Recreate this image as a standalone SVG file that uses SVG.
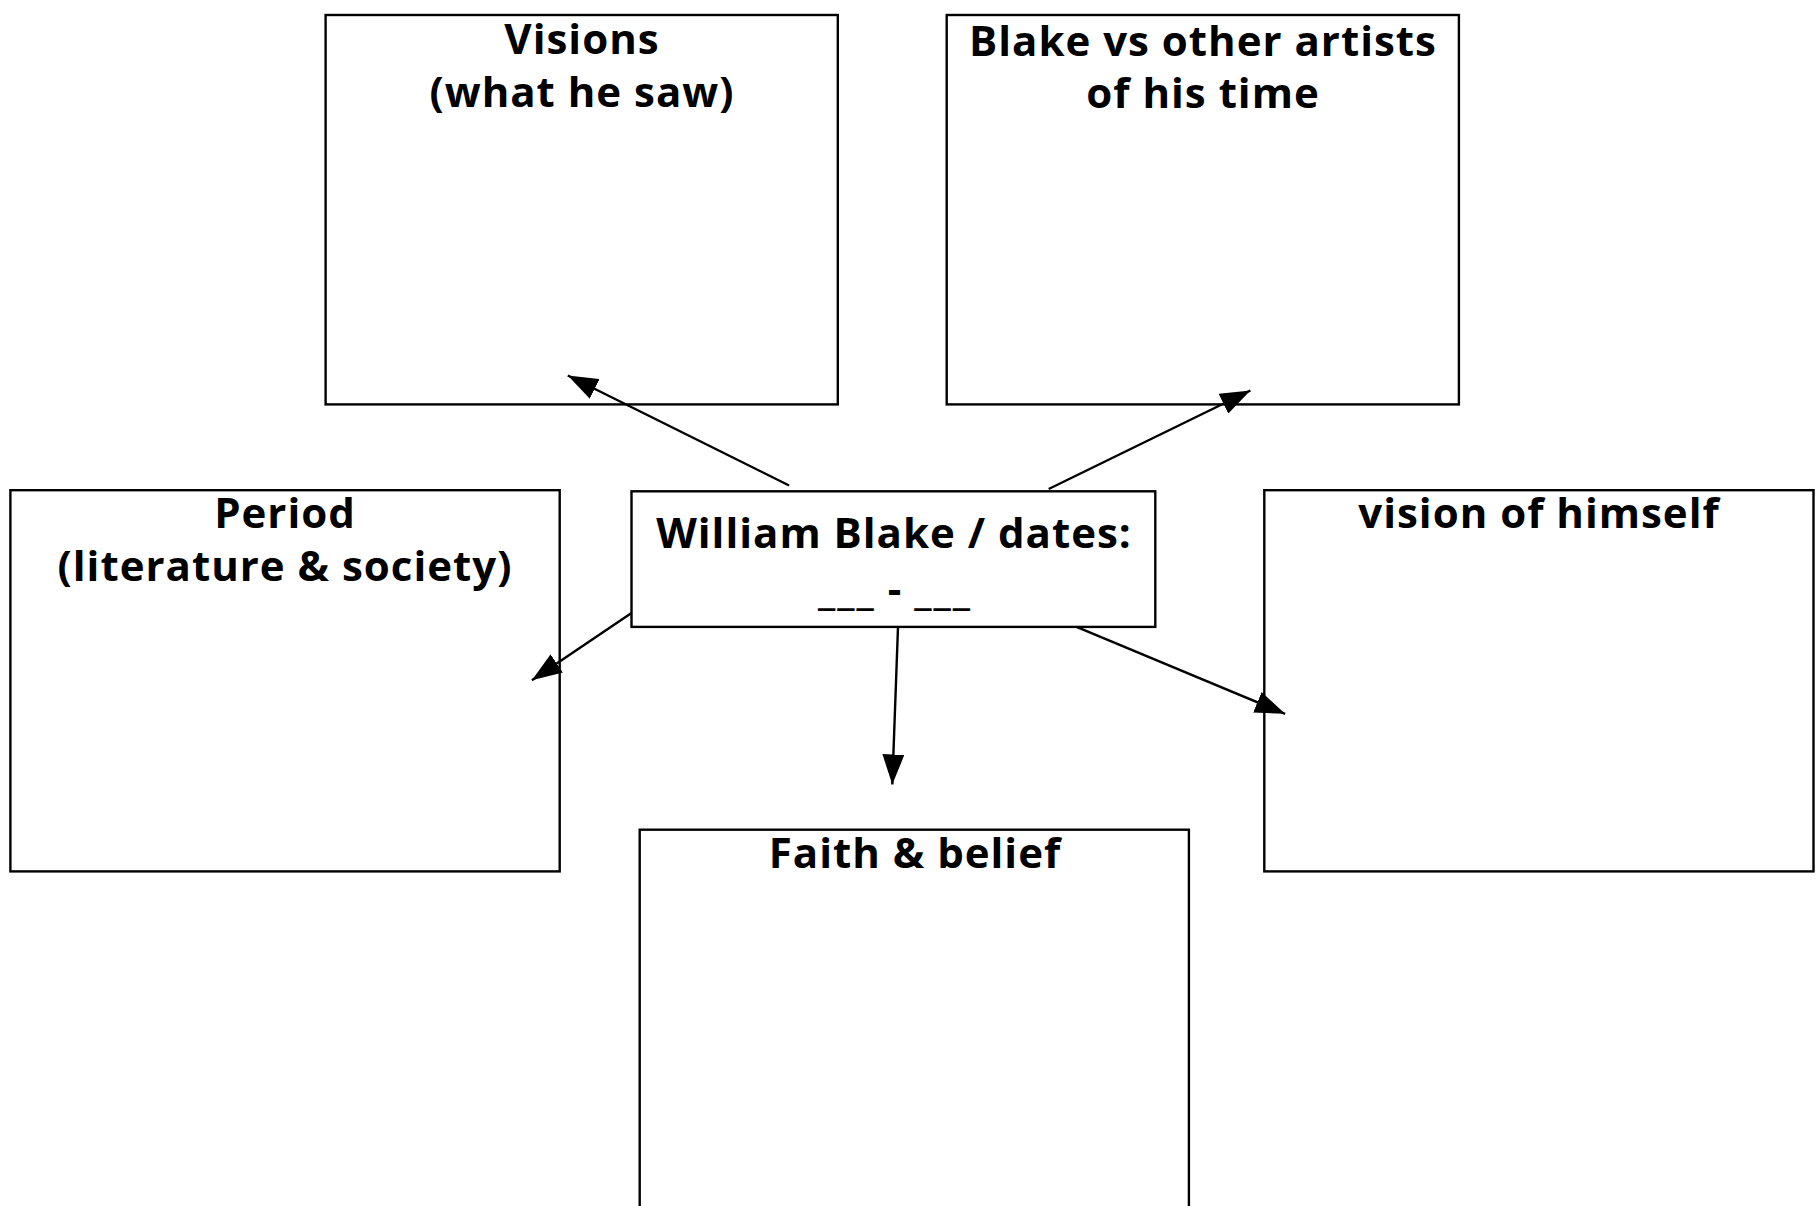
<svg xmlns="http://www.w3.org/2000/svg" width="1817" height="1206" viewBox="0 0 1817 1206">
<style>
.box{fill:#fff;stroke:#000;stroke-width:2.4}
.t{font-family:"Open Sans","Noto Sans","DejaVu Sans",sans-serif;font-weight:bold;font-size:42px;letter-spacing:1px;fill:#000;text-anchor:middle}
.u{letter-spacing:2px}
.c{stroke:#000;stroke-width:2.4;fill:none;marker-end:url(#ah)}
</style>
<defs>
<marker id="ah" viewBox="0 0 30 22" refX="30" refY="11" markerWidth="30" markerHeight="22" markerUnits="userSpaceOnUse" orient="auto">
<path d="M0,0 L30,11 L0,22 Z" fill="#000"/>
</marker>
</defs>
<rect width="1817" height="1206" fill="#fff"/>
<g id="visions">
<rect class="box" x="325.6" y="15" width="512.2" height="389.4"/>
<text class="t" x="582" y="54">Visions</text>
<text class="t" x="582" y="107">(what he saw)</text>
</g>
<g id="blake-vs">
<rect class="box" x="946.7" y="15" width="512.2" height="389.4"/>
<text class="t" x="1203" y="56">Blake vs other artists</text>
<text class="t" x="1203" y="108">of his time</text>
</g>
<g id="period">
<rect class="box" x="10.4" y="490.2" width="549.3" height="381.2"/>
<text class="t" x="285" y="528">Period</text>
<text class="t" x="285" y="581">(literature &amp; society)</text>
</g>
<g id="center">
<rect class="box" x="631.5" y="491.3" width="523.8" height="135.6"/>
<text class="t" x="894" y="548">William Blake / dates:</text>
<text class="t" x="895" y="604"><tspan class="u">___</tspan> - <tspan class="u">___</tspan></text>
</g>
<g id="himself">
<rect class="box" x="1264.3" y="490.2" width="549.2" height="381.2"/>
<text class="t" x="1539" y="528">vision of himself</text>
</g>
<g id="faith">
<rect class="box" x="639.7" y="829.7" width="549.2" height="400"/>
<text class="t" x="915" y="868">Faith &amp; belief</text>
</g>
<g id="connectors">
<line class="c" x1="789.1" y1="485.5" x2="567.8" y2="375.5"/>
<line class="c" x1="1048.7" y1="489" x2="1250.4" y2="390.5"/>
<line class="c" x1="631.5" y1="613" x2="531.9" y2="680.2"/>
<line class="c" x1="898" y1="626.9" x2="892.3" y2="784.5"/>
<line class="c" x1="1076.5" y1="626.9" x2="1285.1" y2="713.8"/>
</g>
</svg>
